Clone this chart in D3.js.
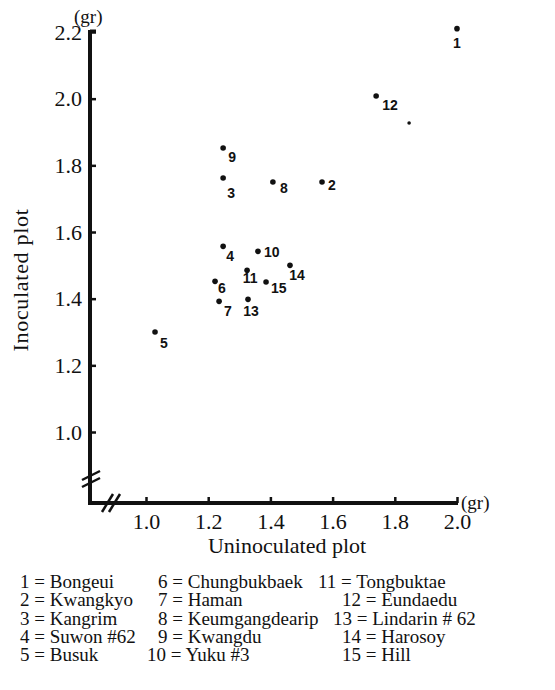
<!DOCTYPE html>
<html lang="en">
<head>
    <meta charset="UTF-8">
    <title>Inoculated vs uninoculated plot</title>
    <script src="https://d3js.org/d3.v7.min.js"></script>
    <style>
        body {
            margin: 0;
            background: #ffffff;
        }
        .tick text, .axis-title, .unit, .legend text {
            font-family: "Liberation Serif", "Times New Roman", serif;
            fill: #111;
        }
        .pt-label {
            font-family: "Liberation Sans", Arial, sans-serif;
            font-size: 14px;
            font-weight: bold;
            fill: #111;
        }
    </style>
</head>
<body>
    <div id="chart"></div>

    <script>
        // cultivar numbers and names
        const ids = [1, 2, 3, 4, 5, 6, 7, 8, 9, 10, 11, 12, 13, 14, 15];
        const names = ["Bongeui", "Kwangkyo", "Kangrim", "Suwon #62", "Busuk",
            "Chungbukbaek", "Haman", "Keumgangdearip", "Kwangdu", "Yuku #3",
            "Tongbuktae", "Eundaedu", "Lindarin # 62", "Harosoy", "Hill"];

        // seed weight (gr)
        const uninoculated = [2.00, 1.566, 1.248, 1.248, 1.029, 1.222, 1.235, 1.408,
            1.248, 1.360, 1.325, 1.740, 1.328, 1.463, 1.386];
        const inoculated = [2.21, 1.75, 1.762, 1.557, 1.30, 1.452, 1.392, 1.75,
            1.852, 1.542, 1.485, 2.008, 1.398, 1.50, 1.45];

        // small unlabelled mark near 12
        const strayX = [1.846];
        const strayY = [1.927];

        const xTicks = [1.0, 1.2, 1.4, 1.6, 1.8, 2.0];
        const yTicks = [1.0, 1.2, 1.4, 1.6, 1.8, 2.0, 2.2];

        const width = 555;
        const height = 690;

        const svg = d3.select("#chart")
            .append("svg")
            .attr("width", width)
            .attr("height", height);

        const x = d3.scaleLinear().domain([1.0, 2.0]).range([146, 457]);
        const y = d3.scaleLinear().domain([1.0, 2.2]).range([432, 32]);

        const originX = 90;
        const originY = 503;

        // y axis ticks (pointing inwards)
        svg.append("g")
            .attr("transform", `translate(${originX},0)`)
            .call(d3.axisLeft(y).tickValues(yTicks).tickFormat(d3.format(".1f"))
                .tickSizeInner(-6).tickSizeOuter(0).tickPadding(8))
            .call(g => g.select(".domain").remove())
            .call(g => g.selectAll(".tick line").attr("stroke", "#111").attr("stroke-width", 2.5))
            .call(g => g.selectAll(".tick text").attr("font-size", 22));

        // x axis ticks
        svg.append("g")
            .attr("transform", `translate(0,${originY})`)
            .call(d3.axisBottom(x).tickValues(xTicks).tickFormat(d3.format(".1f"))
                .tickSizeInner(-6).tickSizeOuter(0).tickPadding(10))
            .call(g => g.select(".domain").remove())
            .call(g => g.selectAll(".tick line").attr("stroke", "#111").attr("stroke-width", 2.5))
            .call(g => g.selectAll(".tick text").attr("font-size", 22));

        // axis lines
        svg.append("path")
            .attr("d", `M${originX},${y(2.2) - 2}V${originY}H${x(2.0) + 1}`)
            .attr("fill", "none")
            .attr("stroke", "#111")
            .attr("stroke-width", 4);
        svg.append("line")
            .attr("x1", originX).attr("x2", originX + 6)
            .attr("y1", y(2.2) - 1).attr("y2", y(2.2) - 1)
            .attr("stroke", "#111").attr("stroke-width", 3);

        // axis break marks
        const breaks = svg.append("g")
            .attr("stroke", "#111")
            .attr("stroke-width", 2.5);
        [-4, 3].forEach(o => {
            breaks.append("line")
                .attr("x1", originX - 8).attr("y1", 484 + o)
                .attr("x2", originX + 10).attr("y2", 475 + o);
            breaks.append("line")
                .attr("x1", 106 + o).attr("y1", 512)
                .attr("x2", 117 + o).attr("y2", 494);
        });

        // units
        svg.append("text").attr("class", "unit")
            .attr("x", 74).attr("y", 23)
            .attr("font-size", 19)
            .text("(gr)");
        svg.append("text").attr("class", "unit")
            .attr("x", 461).attr("y", 509)
            .attr("font-size", 19)
            .text("(gr)");

        // axis titles
        svg.append("text").attr("class", "axis-title")
            .attr("x", 287).attr("y", 553)
            .attr("text-anchor", "middle")
            .attr("font-size", 22)
            .text("Uninoculated plot");
        svg.append("text").attr("class", "axis-title")
            .attr("transform", "translate(28,280) rotate(-90)")
            .attr("text-anchor", "middle")
            .attr("font-size", 22)
            .attr("letter-spacing", 0.7)
            .text("Inoculated plot");

        // points
        const points = ids.map((id, i) => ({ id, xv: uninoculated[i], yv: inoculated[i] }));

        svg.append("g")
            .selectAll("circle")
            .data(points)
            .enter().append("circle")
            .attr("cx", d => x(d.xv))
            .attr("cy", d => y(d.yv))
            .attr("r", 2.8)
            .attr("fill", "#111");

        svg.append("g")
            .selectAll("circle")
            .data(strayX)
            .enter().append("circle")
            .attr("cx", d => x(d))
            .attr("cy", (d, i) => y(strayY[i]))
            .attr("r", 1.8)
            .attr("fill", "#111");

        // where each number sits relative to its dot: [dx, dy, anchor]
        const labelPos = {
            1: [0, 19, "middle"], 2: [6, 8, "start"], 3: [4, 20, "start"],
            4: [3, 15, "start"], 5: [5, 16, "start"], 6: [3, 12, "start"],
            7: [5, 15, "start"], 8: [7, 11, "start"], 9: [5, 14, "start"],
            10: [6, 6, "start"], 11: [3, 13, "middle"], 12: [6, 14, "start"],
            13: [3, 17, "middle"], 14: [7, 15, "middle"], 15: [5, 11, "start"]
        };

        svg.append("g")
            .selectAll("text")
            .data(points)
            .enter().append("text")
            .attr("class", "pt-label")
            .attr("x", d => x(d.xv) + labelPos[d.id][0])
            .attr("y", d => y(d.yv) + labelPos[d.id][1])
            .attr("text-anchor", d => labelPos[d.id][2])
            .text(d => d.id);

        // legend: three columns of five
        const rowY = [588, 606, 625, 643, 661];
        const legendX = [20, 20, 20, 20, 20, 158, 158, 158, 158, 147, 318, 342, 333, 342, 342];

        svg.append("g").attr("class", "legend")
            .selectAll("text")
            .data(ids)
            .enter().append("text")
            .attr("x", (d, i) => legendX[i])
            .attr("y", (d, i) => rowY[i % 5])
            .attr("font-size", 19)
            .text((d, i) => `${d} = ${names[i]}`);
    </script>
</body>
</html>
